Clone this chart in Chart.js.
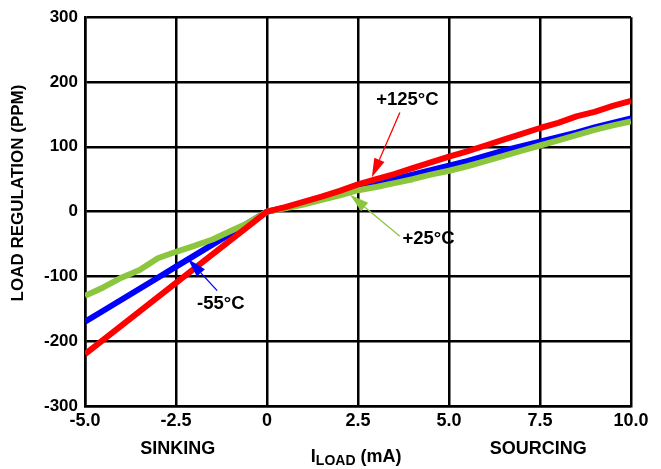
<!DOCTYPE html>
<html>
<head>
<meta charset="utf-8">
<script src="https://cdn.jsdelivr.net/npm/chart.js@4/dist/chart.umd.min.js"></script>
<style>
  html, body { margin: 0; padding: 0; background: #fff; }
  #wrap { width: 661px; height: 469px; }
</style>
</head>
<body>
<div id="wrap"><canvas id="c" width="661" height="469"></canvas></div>
<script>
// Load regulation vs load current (mA), three temperatures
const loadCurrent = [-5, -4.5, -4, -3.5, -3, -2.5, -2, -1.5, -1, -0.5, 0,
                     0.5, 1, 1.5, 2, 2.5, 3, 3.5, 4, 4.5, 5,
                     5.5, 6, 6.5, 7, 7.5, 8, 8.5, 9, 9.5, 10];

const reg125 = [-220, -198, -176, -154, -132, -110, -88, -66, -44, -22, 0,
                7, 15, 23, 32, 42, 50, 58, 67, 76, 85,
                93, 102, 111, 120, 129, 137, 147, 154, 163, 171];

const reg25 = [-130, -117, -102, -90, -72, -62, -53, -43, -30, -17, 0,
               5, 11, 18, 25, 33, 38, 44, 50, 57, 63,
               70, 78, 86, 94, 102, 110, 118, 126, 133, 139];

const regM55 = [-170, -153, -136, -119, -102, -85, -68, -51, -34, -17, 0,
                6, 13, 20, 28, 37, 44, 50, 57, 64, 71,
                78, 86, 94, 101, 108, 115, 122, 130, 137, 144];

const xTicks = [-5, -2.5, 0, 2.5, 5, 7.5, 10];
const yTicks = [-300, -200, -100, 0, 100, 200, 300];

const RED = '#ff0000', BLUE = '#0000ff', GREEN = '#8cc63f';
const FONT = '"Liberation Sans", Arial, sans-serif';

const pts = ys => loadCurrent.map((x, i) => ({ x, y: ys[i] }));

// Temperature call-outs: label anchor, arrow tail and arrow tip in data units
const callouts = [
  { text: '+125°C', color: RED,   label: [3.0, 165],   tail: [3.65, 153],  tip: [2.88, 53] },
  { text: '+25°C',  color: GREEN, label: [3.72, -50],  tail: [3.65, -38],  tip: [2.28, 26] },
  { text: '-55°C',  color: BLUE,  label: [-1.92, -150], tail: [-1.37, -122], tip: [-2.17, -73] }
];

const decor = {
  id: 'decor',
  afterDatasetsDraw(chart) {
    const { ctx, scales: { x, y } } = chart;
    ctx.save();
    // arrows
    callouts.forEach(c => {
      const tx = x.getPixelForValue(c.tail[0]), ty = y.getPixelForValue(c.tail[1]);
      const px = x.getPixelForValue(c.tip[0]), py = y.getPixelForValue(c.tip[1]);
      const ang = Math.atan2(py - ty, px - tx);
      const len = 19, hw = 5.5;
      const bx = px - len * Math.cos(ang), by = py - len * Math.sin(ang);
      ctx.strokeStyle = c.color;
      ctx.fillStyle = c.color;
      ctx.lineWidth = 1.3;
      ctx.beginPath();
      ctx.moveTo(tx, ty);
      ctx.lineTo(bx, by);
      ctx.stroke();
      ctx.beginPath();
      ctx.moveTo(px, py);
      ctx.lineTo(bx + hw * Math.sin(ang), by - hw * Math.cos(ang));
      ctx.lineTo(bx - hw * Math.sin(ang), by + hw * Math.cos(ang));
      ctx.closePath();
      ctx.fill();
    });
    // labels
    ctx.fillStyle = '#000';
    ctx.font = 'bold 18.5px ' + FONT;
    ctx.textBaseline = 'alphabetic';
    ctx.textAlign = 'left';
    callouts.forEach(c => {
      ctx.fillText(c.text, x.getPixelForValue(c.label[0]), y.getPixelForValue(c.label[1]));
    });
    ctx.restore();
  },
  afterDraw(chart) {
    const { ctx, scales: { x }, chartArea: a } = chart;
    ctx.save();
    ctx.fillStyle = '#000';
    ctx.font = 'bold 18px ' + FONT;
    ctx.textBaseline = 'alphabetic';
    ctx.textAlign = 'center';
    ctx.fillText('SINKING', x.getPixelForValue(-2.45), a.bottom + 48);
    ctx.fillText('SOURCING', x.getPixelForValue(7.45), a.bottom + 48);

    // I_LOAD (mA) with subscript
    const big = 'bold 18px ' + FONT, small = 'bold 14px ' + FONT;
    ctx.font = big; const w1 = ctx.measureText('I').width;
    ctx.font = small; const w2 = ctx.measureText('LOAD').width;
    ctx.font = big; const w3 = ctx.measureText(' (mA)').width;
    const total = w1 + w2 + w3;
    let sx = x.getPixelForValue(2.45) - total / 2;
    const base = a.bottom + 56;
    ctx.textAlign = 'left';
    ctx.font = big; ctx.fillText('I', sx, base); sx += w1;
    ctx.font = small; ctx.fillText('LOAD', sx, base + 3); sx += w2;
    ctx.font = big; ctx.fillText(' (mA)', sx, base);

    // y-axis title
    ctx.translate(18, 193);
    ctx.rotate(-Math.PI / 2);
    ctx.textAlign = 'center';
    ctx.textBaseline = 'middle';
    ctx.font = 'bold 17px ' + FONT;
    ctx.fillText('LOAD REGULATION (PPM)', 0, 0);
    ctx.restore();
  }
};

const line = (label, data, color, width) => ({
  label, data, borderColor: color, backgroundColor: color,
  borderWidth: width, pointRadius: 0, showLine: true, tension: 0,
  borderCapStyle: 'butt', borderJoinStyle: 'round', fill: false
});

new Chart(document.getElementById('c'), {
  type: 'scatter',
  data: {
    // first dataset is painted on top
    datasets: [
      line('+125°C', pts(reg125), RED, 6),
      line('+25°C', pts(reg25), GREEN, 6),
      line('-55°C', pts(regM55), BLUE, 6)
    ]
  },
  options: {
    responsive: false,
    animation: false,
    devicePixelRatio: 1,
    layout: { padding: { top: 13, right: 30, left: 0, bottom: 0 } },
    plugins: { legend: { display: false }, tooltip: { enabled: false }, title: { display: false } },
    scales: {
      x: {
        type: 'linear', min: -5, max: 10,
        afterFit(s) { s.height = 63; },
        afterBuildTicks(s) { s.ticks = xTicks.map(v => ({ value: v })); },
        grid: { color: '#000', lineWidth: 2.5, drawTicks: false },
        border: { color: '#000', width: 2.5 },
        ticks: {
          color: '#000', padding: 4, maxRotation: 0,
          font: { family: FONT, size: 18, weight: 'bold' },
          callback: v => v === 0 ? '0' : v.toFixed(1)
        }
      },
      y: {
        type: 'linear', min: -300, max: 300,
        afterFit(s) { s.width = 85; },
        afterBuildTicks(s) { s.ticks = yTicks.map(v => ({ value: v })); },
        grid: { color: '#000', lineWidth: 2.5, drawTicks: false },
        border: { color: '#000', width: 2.5 },
        ticks: {
          color: '#000', padding: 7,
          font: { family: FONT, size: 17, weight: 'bold' },
          callback: v => String(v)
        }
      }
    }
  },
  plugins: [decor]
});
</script>
</body>
</html>
